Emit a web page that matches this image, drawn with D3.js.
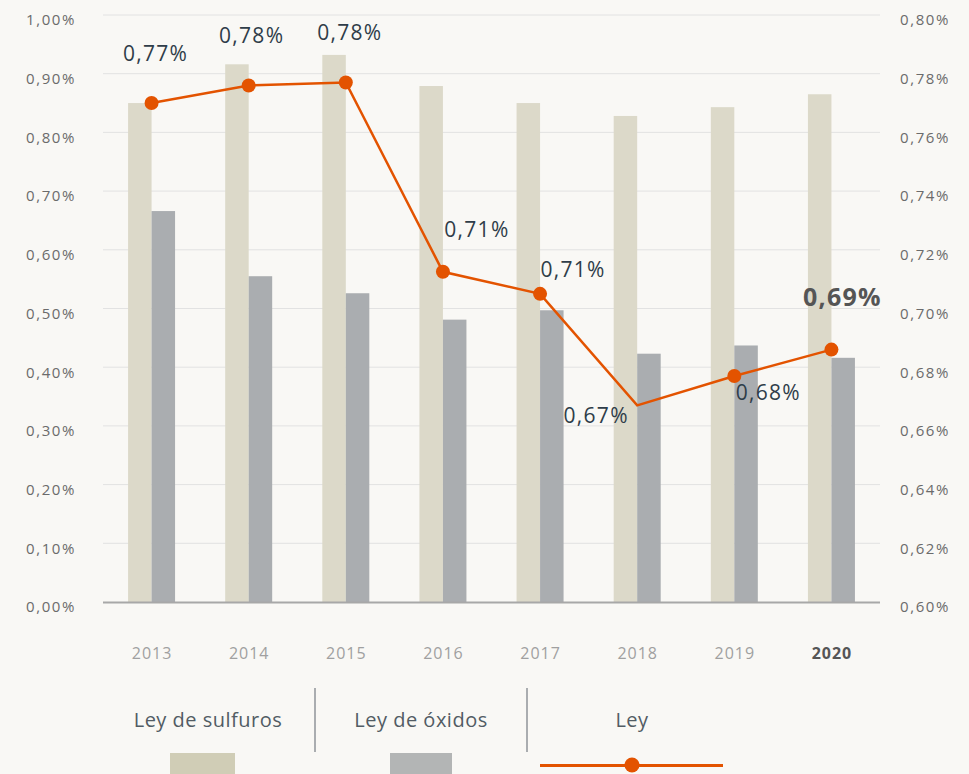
<!DOCTYPE html>
<html>
<head>
<meta charset="utf-8">
<script src="https://cdn.jsdelivr.net/npm/d3@7"></script>
<style>
  html, body { margin: 0; padding: 0; background: #f9f8f5; }
  svg { display: block; font-family: "Open Sans", "Noto Sans", sans-serif; }
</style>
</head>
<body>
<div id="chart"></div>
<script>
// data (percent units)
const years = ["2013", "2014", "2015", "2016", "2017", "2018", "2019", "2020"];
const leySulfuros = [0.850, 0.916, 0.932, 0.879, 0.850, 0.828, 0.843, 0.865];
const leyOxidos = [0.666, 0.555, 0.526, 0.481, 0.497, 0.423, 0.437, 0.416];
const ley = [0.770, 0.776, 0.777, 0.7125, 0.705, 0.667, 0.677, 0.686];
const leyLabels = ["0,77%", "0,78%", "0,78%", "0,71%", "0,71%", "0,67%", "0,68%", "0,69%"];
const leftTicks = [0, 0.1, 0.2, 0.3, 0.4, 0.5, 0.6, 0.7, 0.8, 0.9, 1.0];
const rightTicks = [0.60, 0.62, 0.64, 0.66, 0.68, 0.70, 0.72, 0.74, 0.76, 0.78, 0.80];
const legendNames = ["Ley de sulfuros", "Ley de óxidos", "Ley"];

const width = 969, height = 774;
const margin = { left: 103, right: 89, top: 15, bottom: 173 };

const svg = d3.select("#chart")
  .append("svg")
  .attr("width", width)
  .attr("height", height);

svg.append("rect").attr("width", width).attr("height", height).attr("fill", "#f9f8f5");

const locale = d3.formatLocale({ decimal: ",", thousands: ".", grouping: [3], currency: ["", "€"] });
const fmt = d => locale.format(".2f")(d) + "%";

// scales
const x = d3.scaleBand()
  .domain(years)
  .range([margin.left, width - margin.right]);
const xSub = d3.scaleBand()
  .domain(["sulfuros", "oxidos"])
  .range([-23.5, 23.5]);
const yLeft = d3.scaleLinear()
  .domain([0, 1.0])
  .range([height - margin.bottom + 1, margin.top]);
const yRight = d3.scaleLinear()
  .domain([0.60, 0.80])
  .range([height - margin.bottom + 1, margin.top]);

// gridlines
svg.append("g")
  .selectAll("line")
  .data(leftTicks.slice(1))
  .join("line")
  .attr("x1", margin.left)
  .attr("x2", width - margin.right)
  .attr("y1", d => yLeft(d))
  .attr("y2", d => yLeft(d))
  .attr("stroke", "#e2e2e2")
  .attr("stroke-width", 1);

// left axis
const gl = svg.append("g")
  .attr("transform", `translate(${margin.left},5)`)
  .call(d3.axisLeft(yLeft).tickValues(leftTicks).tickFormat(fmt).tickSize(0).tickPadding(27));
gl.select(".domain").remove();
gl.selectAll("text")
  .attr("font-size", 15).attr("letter-spacing", 1.6)
  .attr("fill", "#6b6b6b").attr("font-family", "Open Sans");

// right axis
const gr = svg.append("g")
  .attr("transform", `translate(${width - margin.right},5)`)
  .call(d3.axisRight(yRight).tickValues(rightTicks).tickFormat(fmt).tickSize(0).tickPadding(20));
gr.select(".domain").remove();
gr.selectAll("text")
  .attr("font-size", 15).attr("letter-spacing", 1.6)
  .attr("fill", "#6b6b6b").attr("font-family", "Open Sans");

// bars
const groups = svg.append("g")
  .selectAll("g")
  .data(years)
  .join("g")
  .attr("transform", d => `translate(${x(d) + x.bandwidth() / 2},0)`);

groups.append("rect")
  .attr("x", xSub("sulfuros"))
  .attr("width", xSub.bandwidth())
  .attr("y", (d, i) => yLeft(leySulfuros[i]))
  .attr("height", (d, i) => yLeft(0) - yLeft(leySulfuros[i]))
  .attr("fill", "#dcd9c9");

groups.append("rect")
  .attr("x", xSub("oxidos"))
  .attr("width", xSub.bandwidth())
  .attr("y", (d, i) => yLeft(leyOxidos[i]))
  .attr("height", (d, i) => yLeft(0) - yLeft(leyOxidos[i]))
  .attr("fill", "#aaadb0");

// baseline
svg.append("line")
  .attr("x1", margin.left)
  .attr("x2", width - margin.right)
  .attr("y1", yLeft(0) + 0.5)
  .attr("y2", yLeft(0) + 0.5)
  .attr("stroke", "#a8a8a8")
  .attr("stroke-width", 2);

// x labels
svg.append("g")
  .selectAll("text")
  .data(years)
  .join("text")
  .attr("x", d => x(d) + x.bandwidth() / 2 + 0.5)
  .attr("y", 659)
  .attr("text-anchor", "middle")
  .attr("font-size", 16)
  .attr("letter-spacing", 1)
  .attr("font-weight", (d, i) => i === years.length - 1 ? 700 : 400)
  .attr("fill", (d, i) => i === years.length - 1 ? "#555" : "#a0a0a0")
  .text(d => d);

// ley line
const points = years.map((y, i) => ({ year: y, value: ley[i], label: leyLabels[i] }));
const cx = d => x(d.year) + x.bandwidth() / 2;

svg.append("path")
  .datum(points)
  .attr("fill", "none")
  .attr("stroke", "#e35300")
  .attr("stroke-width", 2.5)
  .attr("d", d3.line().x(cx).y(d => yRight(d.value)));

svg.append("g")
  .selectAll("circle")
  .data(points.filter(d => d.year !== "2018"))
  .join("circle")
  .attr("cx", cx)
  .attr("cy", d => yRight(d.value))
  .attr("r", 7)
  .attr("fill", "#e35300");

// value labels, offset from each point
const labelOffset = {
  "2013": [4, -42], "2014": [3, -42], "2015": [4, -43], "2016": [34, -35],
  "2017": [33, -17], "2018": [-41, 18], "2019": [34, 24], "2020": [11, -44]
};
svg.append("g")
  .selectAll("text")
  .data(points)
  .join("text")
  .attr("x", d => cx(d) + labelOffset[d.year][0])
  .attr("y", d => yRight(d.value) + labelOffset[d.year][1])
  .attr("text-anchor", "middle")
  .attr("font-size", d => d.year === "2020" ? 25 : 21)
  .attr("letter-spacing", 1.3)
  .attr("font-weight", d => d.year === "2020" ? 700 : 500)
  .attr("fill", d => d.year === "2020" ? "#555555" : "#2f3d49")
  .text(d => d.label);

// legend
const legendX = [208, 421, 632];
const legend = svg.append("g");
legend.selectAll("text")
  .data(legendNames)
  .join("text")
  .attr("x", (d, i) => legendX[i])
  .attr("y", 727)
  .attr("text-anchor", "middle")
  .attr("font-size", 20)
  .attr("letter-spacing", 0.5)
  .attr("fill", "#525c64")
  .text(d => d);

legend.selectAll("line.sep")
  .data([315, 527])
  .join("line")
  .attr("class", "sep")
  .attr("x1", d => d).attr("x2", d => d)
  .attr("y1", 688).attr("y2", 752)
  .attr("stroke", "#8f9498")
  .attr("stroke-width", 1.5);

legend.append("rect").attr("x", 170).attr("y", 753).attr("width", 65).attr("height", 30).attr("fill", "#d0cdb6");
legend.append("rect").attr("x", 390).attr("y", 753).attr("width", 62).attr("height", 30).attr("fill", "#b3b5b5");
legend.append("line")
  .attr("x1", 540).attr("x2", 723)
  .attr("y1", 765.5).attr("y2", 765.5)
  .attr("stroke", "#e35300").attr("stroke-width", 3);
legend.append("circle").attr("cx", 632).attr("cy", 765).attr("r", 7.5).attr("fill", "#e35300");
</script>
</body>
</html>
